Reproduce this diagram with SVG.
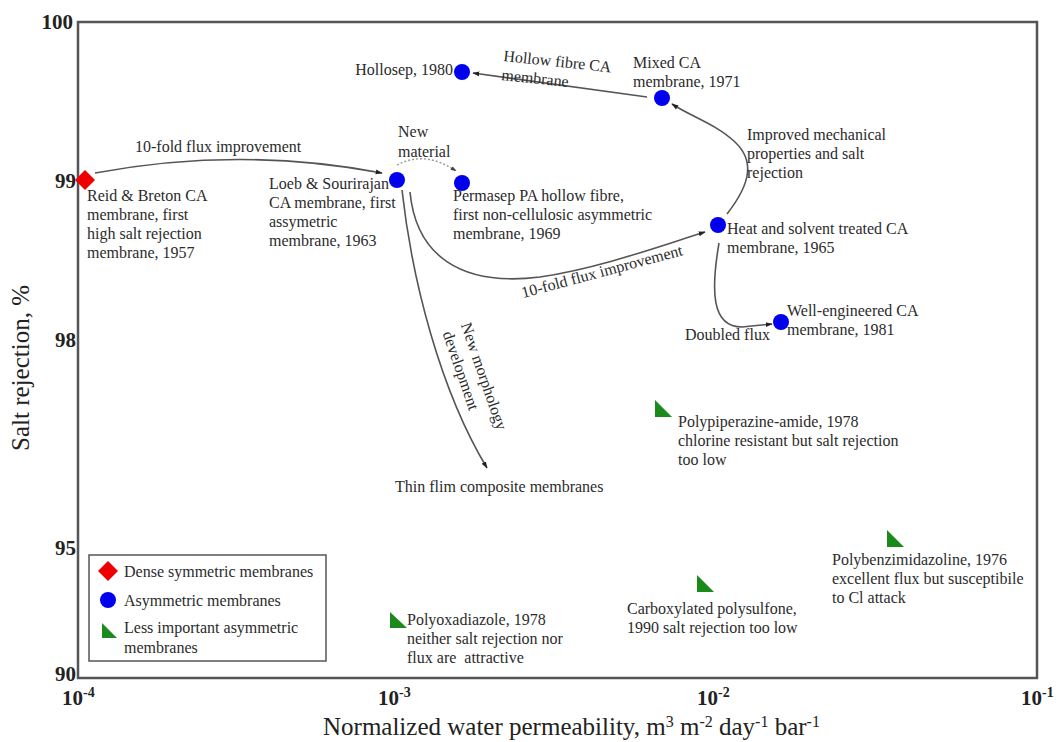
<svg xmlns="http://www.w3.org/2000/svg" width="1060" height="742" viewBox="0 0 1060 742">
<defs>
<marker id="ah" viewBox="0 0 10 10" refX="9" refY="5" markerWidth="7" markerHeight="7" orient="auto" markerUnits="userSpaceOnUse">
<path d="M0,1.5 L10,5 L0,8.5 z" fill="#222"/>
</marker>
<marker id="ahl" viewBox="0 0 10 10" refX="9" refY="5" markerWidth="6" markerHeight="6" orient="auto" markerUnits="userSpaceOnUse">
<path d="M0,1.5 L10,5 L0,8.5 z" fill="#444"/>
</marker>
<style>
.t{font-family:"Liberation Serif","Times New Roman",serif;font-size:16px;fill:#2b2b2b}
.tick{font-family:"Liberation Serif","Times New Roman",serif;font-size:21px;font-weight:bold;fill:#222}
.ax{font-family:"Liberation Serif","Times New Roman",serif;font-size:25px;fill:#222}
.c{fill:none;stroke:#555;stroke-width:1.6}
.blue{fill:#0000ee}
.red{fill:#ee0000}
.green{fill:#1a8a1a}
</style>
</defs>
<rect width="1060" height="742" fill="#fff"/>
<!-- frame -->
<rect x="78" y="22" width="959" height="656" fill="none" stroke="#555" stroke-width="2.5"/>
<!-- ticks labels -->
<g id="yticks">
<text class="tick" x="73" y="29" text-anchor="end">100</text>
<text class="tick" x="76" y="188" text-anchor="end">99</text>
<text class="tick" x="76" y="347" text-anchor="end">98</text>
<text class="tick" x="76" y="555" text-anchor="end">95</text>
<text class="tick" x="76" y="681" text-anchor="end">90</text>
</g>
<g id="xticks">
<text class="tick" x="62" y="705">10<tspan dy="-8" font-size="14">-4</tspan></text>
<text class="tick" x="378" y="705">10<tspan dy="-8" font-size="14">-3</tspan></text>
<text class="tick" x="697" y="705">10<tspan dy="-8" font-size="14">-2</tspan></text>
<text class="tick" x="1021" y="705">10<tspan dy="-8" font-size="14">-1</tspan></text>
</g>
<text class="ax" x="323" y="735">Normalized water permeability, m<tspan dy="-8" font-size="16">3</tspan><tspan dy="8"> m</tspan><tspan dy="-8" font-size="16">-2</tspan><tspan dy="8"> day</tspan><tspan dy="-8" font-size="16">-1</tspan><tspan dy="8"> bar</tspan><tspan dy="-8" font-size="16">-1</tspan></text>
<text class="ax" transform="translate(29,368) rotate(-90)" text-anchor="middle" font-size="24">Salt rejection, %</text>

<!-- connectors -->
<g id="connectors">
<path class="c" d="M95,173 Q240,146 382,173" marker-end="url(#ah)"/>
<path d="M397,165 Q425,150 456,171" fill="none" stroke="#999" stroke-width="1.4" stroke-dasharray="2,2" marker-end="url(#ahl)"/>
<path class="c" d="M647,97 L473,73" marker-end="url(#ah)"/>
<path class="c" d="M727,214 C752,182 754,160 735,142 S690,116 672,104" marker-end="url(#ah)"/>
<path class="c" d="M719,243 C711,290 711,327 742,327 L772,324" marker-end="url(#ah)"/>
<path class="c" d="M410,192 C416,255 460,287 540,277 C600,268 660,246 705,232" marker-end="url(#ah)"/>
<path class="c" d="M402,190 C412,280 440,390 487,468" marker-end="url(#ah)"/>
</g>

<!-- connector labels -->
<g id="conn-labels">
<text class="t" x="135" y="152">10-fold flux improvement</text>
<text class="t" x="398" y="137">New</text>
<text class="t" x="398" y="157">material</text>
<g transform="translate(503,61) rotate(6)"><text class="t" x="0" y="0">Hollow fibre CA</text><text class="t" x="0" y="19">membrane</text></g>
<text class="t" x="747" y="140">Improved mechanical</text>
<text class="t" x="747" y="159">properties and salt</text>
<text class="t" x="747" y="178">rejection</text>
<text class="t" x="685" y="340">Doubled flux</text>
<text class="t" transform="translate(523,298) rotate(-15)">10-fold flux improvement</text>
<g transform="translate(479,378) rotate(71)"><text class="t" x="0" y="0" text-anchor="middle">New morphology</text><text class="t" x="-13" y="20" text-anchor="middle">development</text></g>
<text class="t" x="395" y="492">Thin flim composite membranes</text>
</g>

<!-- nodes -->
<g id="reid">
<path class="red" d="M85,170 L95,180 L85,190 L75,180 z"/>
<text class="t" x="87" y="201">Reid &amp; Breton CA</text>
<text class="t" x="87" y="220">membrane, first</text>
<text class="t" x="87" y="239">high salt rejection</text>
<text class="t" x="87" y="258">membrane, 1957</text>
</g>
<g id="loeb">
<circle class="blue" cx="397" cy="180" r="8"/>
<text class="t" x="269" y="189">Loeb &amp; Sourirajan</text>
<text class="t" x="269" y="208">CA membrane, first</text>
<text class="t" x="269" y="227">assymetric</text>
<text class="t" x="269" y="246">membrane, 1963</text>
</g>
<g id="permasep">
<circle class="blue" cx="462" cy="183" r="8"/>
<text class="t" x="453" y="201">Permasep PA hollow fibre,</text>
<text class="t" x="453" y="220">first non-cellulosic asymmetric</text>
<text class="t" x="453" y="239">membrane, 1969</text>
</g>
<g id="hollosep">
<circle class="blue" cx="462" cy="72" r="8"/>
<text class="t" x="453" y="75" text-anchor="end">Hollosep, 1980</text>
</g>
<g id="mixed">
<circle class="blue" cx="662" cy="98" r="8"/>
<text class="t" x="633" y="68">Mixed CA</text>
<text class="t" x="633" y="87">membrane, 1971</text>
</g>
<g id="heat">
<circle class="blue" cx="718" cy="225" r="8"/>
<text class="t" x="727" y="234">Heat and solvent treated CA</text>
<text class="t" x="727" y="253">membrane, 1965</text>
</g>
<g id="well">
<circle class="blue" cx="781" cy="322" r="8"/>
<text class="t" x="787" y="316">Well-engineered CA</text>
<text class="t" x="787" y="335">membrane, 1981</text>
</g>
<g id="polypiperazine">
<path class="green" d="M655,400 L655,417 L672,417 z"/>
<text class="t" x="678" y="427">Polypiperazine-amide, 1978</text>
<text class="t" x="678" y="446">chlorine resistant but salt rejection</text>
<text class="t" x="678" y="465">too low</text>
</g>
<g id="polybenz">
<path class="green" d="M887,530 L887,547 L904,547 z"/>
<text class="t" x="832" y="565">Polybenzimidazoline, 1976</text>
<text class="t" x="832" y="584">excellent flux but susceptibile</text>
<text class="t" x="832" y="603">to Cl attack</text>
</g>
<g id="carboxylated">
<path class="green" d="M697,575 L697,592 L714,592 z"/>
<text class="t" x="627" y="614">Carboxylated polysulfone,</text>
<text class="t" x="627" y="633">1990 salt rejection too low</text>
</g>
<g id="polyoxadiazole">
<path class="green" d="M390,612 L390,628 L407,628 z"/>
<text class="t" x="407" y="625">Polyoxadiazole, 1978</text>
<text class="t" x="407" y="644">neither salt rejection nor</text>
<text class="t" x="407" y="663" xml:space="preserve">flux are  attractive</text>
</g>

<!-- legend -->
<g id="legend">
<rect x="89" y="555" width="237" height="106" fill="#fff" stroke="#555" stroke-width="1.5"/>
<path class="red" d="M108,561 L118,571 L108,581 L98,571 z"/>
<text class="t" x="124" y="577">Dense symmetric membranes</text>
<circle class="blue" cx="108" cy="600" r="8"/>
<text class="t" x="124" y="606">Asymmetric membranes</text>
<path class="green" d="M102,623 L102,638 L117,638 z"/>
<text class="t" x="124" y="633">Less important asymmetric</text>
<text class="t" x="124" y="653">membranes</text>
</g>
</svg>
